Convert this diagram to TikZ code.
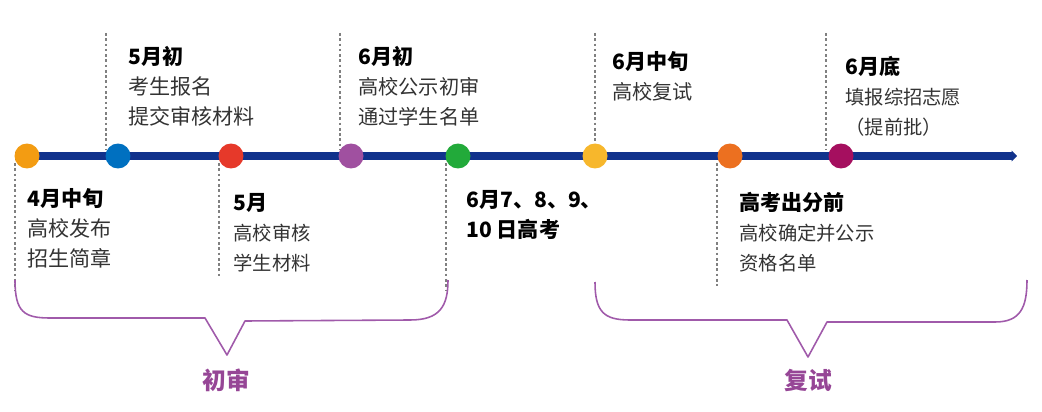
\documentclass[tikz,border=0pt]{standalone}
\usepackage{fontspec}
\setmainfont{Noto Sans CJK SC}
\usepackage{tikz}
\usetikzlibrary{arrows.meta,positioning}
\usepackage{xcolor}
\definecolor{tlblue}{RGB}{17,50,140}
\definecolor{dforange}{RGB}{243,156,18}
\definecolor{dfblue}{RGB}{0,112,192}
\definecolor{dfred}{RGB}{230,57,42}
\definecolor{dfpurple}{RGB}{160,80,160}
\definecolor{dfgreen}{RGB}{34,170,58}
\definecolor{dfyellow}{RGB}{247,183,44}
\definecolor{dfdarkorange}{RGB}{236,112,32}
\definecolor{dfmagenta}{RGB}{165,15,95}
\definecolor{brpurple}{RGB}{160,90,170}
\definecolor{lbpurple}{RGB}{150,70,150}
\definecolor{txtgray}{RGB}{51,51,51}
\tikzstyle{tline} = [line width=4pt, color=tlblue, -{Triangle[length=3pt,width=6pt]}]
\tikzstyle{dot} = [circle, minimum size=0.5cm, inner sep=0pt]
\tikzstyle{guide} = [dash pattern=on 1.5pt off 1.5pt, color=gray, line width=0.6pt]
\tikzstyle{event} = [anchor=base west, inner sep=0pt, text=txtgray]
\tikzstyle{brace} = [draw=brpurple, line width=0.9pt, line join=round]
\tikzstyle{phase} = [text=lbpurple, font=\fontsize{13.5}{15}\selectfont\bfseries]
\newcommand{\hd}[1]{\textcolor{black}{\textbf{#1}}}
\renewcommand{\arraystretch}{1.2}

\begin{document}
\begin{tikzpicture}[x=0.02cm, y=-0.02cm]
\useasboundingbox (0,0) rectangle (1042,412);

% Guide lines
\foreach \gx/\ga/\gb in {106/33/150, 340/33/150, 595/33/146, 826/33/150,
                         15/163/290, 219/163/278, 446/163/290, 717/163/286}
  \draw[guide] (\gx,\ga) -- (\gx,\gb);

% Timeline
\coordinate (tstart) at (15,156);
\coordinate (tend) at (1017,156);
\draw[tline] (tstart) -- (tend);

% Dots
\node[dot, fill=dforange] (apr) at (27,156) {};
\node[dot, fill=dfblue] (mayearly) at (118,156) {};
\node[dot, fill=dfred] (may) at (231,156) {};
\node[dot, fill=dfpurple] (junearly) at (351,156) {};
\node[dot, fill=dfgreen] (gaokao) at (458,156) {};
\node[dot, fill=dfyellow] (junmid) at (595,156) {};
\node[dot, fill=dfdarkorange] (score) at (730,156) {};
\node[dot, fill=dfmagenta] (junend) at (841,156) {};

% Events below the line
\node[event, font=\fontsize{12}{14}\selectfont] (aprtxt) at (27,207) {
\begin{tabular}[t]{@{}l@{}}
\hd{4月中旬}\\
高校发布\\
招生简章
\end{tabular}
};
\node[event, font=\fontsize{11}{14}\selectfont] (maytxt) at (233,211) {
\begin{tabular}[t]{@{}l@{}}
\hd{\fontsize{12}{14}\selectfont 5月}\\
高校审核\\
学生材料
\end{tabular}
};
\node[event, font=\fontsize{12}{14}\selectfont] (gaokaotxt) at (466,208) {
\begin{tabular}[t]{@{}l@{}}
\hd{6月7、8、9、}\\
\hd{10 日高考}
\end{tabular}
};
\node[event, font=\fontsize{11}{14}\selectfont] (scoretxt) at (739,211) {
\begin{tabular}[t]{@{}l@{}}
\hd{\fontsize{12}{14}\selectfont 高考出分前}\\
高校确定并公示\\
资格名单
\end{tabular}
};

% Events above the line
\node[event, font=\fontsize{12}{14}\selectfont] (mayearlytxt) at (128,65) {
\begin{tabular}[t]{@{}l@{}}
\hd{5月初}\\
考生报名\\
提交审核材料
\end{tabular}
};
\node[event, font=\fontsize{11.5}{14}\selectfont] (junearlytxt) at (358,65) {
\begin{tabular}[t]{@{}l@{}}
\hd{\fontsize{12}{14}\selectfont 6月初}\\
高校公示初审\\
通过学生名单
\end{tabular}
};
\node[event, font=\fontsize{11.5}{14}\selectfont] (junmidtxt) at (612,70) {
\begin{tabular}[t]{@{}l@{}}
\hd{\fontsize{12}{14}\selectfont 6月中旬}\\
高校复试
\end{tabular}
};
\node[event, font=\fontsize{11}{14}\selectfont] (junendtxt) at (845,75) {
\begin{tabular}[t]{@{}l@{}}
\hd{\fontsize{12}{14}\selectfont 6月底}\\
填报综招志愿\\
（提前批）
\end{tabular}
};

% Braces
\draw[brace] (15,280) .. controls (15,312) and (24,318) .. (50,318) -- (205,318)
  -- (227,355) -- (245,321) -- (410,320) .. controls (440,320) and (448,306) .. (448,280);
\draw[brace] (595,282) .. controls (595,312) and (604,320) .. (630,320) -- (787,320)
  -- (808,357) -- (827,322) -- (995,322) .. controls (1020,322) and (1027,308) .. (1027,280);

% Phase labels
\node[phase] (first) at (226,380) {初审};
\node[phase] (second) at (808,380) {复试};
\end{tikzpicture}
\end{document}
